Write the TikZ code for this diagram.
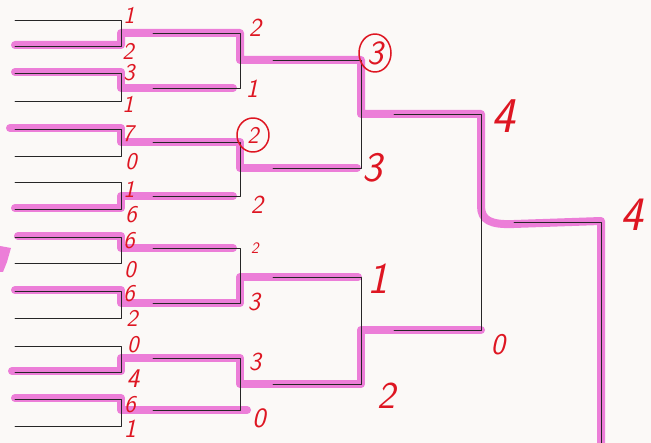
\documentclass[tikz,border=0pt]{standalone}
\usetikzlibrary{calc}

\definecolor{hlpink}{RGB}{236,126,216}
\definecolor{penred}{RGB}{222,22,34}
\definecolor{paper}{RGB}{251,249,247}

\begin{document}
\begin{tikzpicture}[
    x=1pt, y=-1pt,
    line join=round,
    line cap=round,
    hl/.style={draw=hlpink, line width=8pt},
    bline/.style={draw=black!85, line width=0.9pt},
    pen/.style={text=penred, inner sep=0pt,
        font=\sffamily\itshape\fontsize{#1}{#1}\selectfont},
    pen/.default=24,
    ring/.style={draw=penred, line width=1.5pt}
]

% ======================================
% 参数设置：各轮横线的 x 位置
% ======================================
\def\xRa{15}    % 第一轮 左端
\def\xRb{121}   % 第一轮 竖线
\def\xRc{153}   % 第二轮 左端
\def\xRd{240}   % 第二轮 竖线
\def\xRe{273}   % 第三轮 左端
\def\xRf{361}   % 第三轮 竖线
\def\xRg{394}   % 第四轮 左端
\def\xRh{481}   % 第四轮 竖线
\def\xRi{514}   % 决赛 左端
\def\xRj{601}   % 决赛 竖线

% 画布
\useasboundingbox (0,0) rectangle (651,443);
\fill[paper] (0,0) rectangle (651,443);

% ======================================
% 荧光笔：胜者路径
% ======================================
\draw[hl] (\xRa,45) -- (\xRb,45) -- (\xRb,33) -- (\xRd,33) -- (\xRd,60)
    -- (\xRf,60) -- (\xRf,114) -- (\xRh,114) -- (\xRh,206)
    .. controls (\xRh,220) and (490,225) .. (\xRi,224)
    -- (\xRj,221) -- (\xRj,446);

\draw[hl] (\xRa,72) -- (\xRb,72) -- (\xRb,88) -- (233,88);
\draw[hl] (10,128) -- (\xRb,128) -- (\xRb,142) -- (\xRd,142) -- (\xRd,168) -- (357,168);
\draw[hl] (\xRa,208) -- (\xRb,208) -- (\xRb,196) -- (233,196);
\draw[hl] (18,236) -- (\xRb,236) -- (\xRb,248) -- (233,248);
\draw[hl] (\xRa,290) -- (\xRb,290) -- (\xRb,303) -- (\xRd,303) -- (\xRd,277) -- (358,277);
\draw[hl] (12,371) -- (\xRb,371) -- (\xRb,358) -- (\xRd,358) -- (\xRd,384)
    -- (\xRf,384) -- (\xRf,330) -- (\xRh,330);
\draw[hl] (\xRa,398) -- (\xRb,398) -- (\xRb,410) -- (247,410);

% 左边一点笔迹
\fill[hlpink] (0,246) -- (11,248) -- (7,262) -- (3,272) -- (0,272) -- cycle;

% ======================================
% 对阵表：黑线
% ======================================
% 第一轮
\draw[bline] (\xRa,20) -- (\xRb,20) -- (\xRb,46) -- (\xRa,46);
\draw[bline] (\xRa,73) -- (\xRb,73) -- (\xRb,101) -- (\xRa,101);
\draw[bline] (\xRa,129) -- (\xRb,129) -- (\xRb,156) -- (\xRa,156);
\draw[bline] (\xRa,182) -- (\xRb,182) -- (\xRb,209) -- (\xRa,209);
\draw[bline] (\xRa,237) -- (\xRb,237) -- (\xRb,263) -- (\xRa,263);
\draw[bline] (\xRa,291) -- (\xRb,291) -- (\xRb,318) -- (\xRa,318);
\draw[bline] (\xRa,346) -- (\xRb,346) -- (\xRb,372) -- (\xRa,372);
\draw[bline] (\xRa,399) -- (\xRb,399) -- (\xRb,426) -- (\xRa,426);

% 第二轮
\draw[bline] (\xRc,33) -- (\xRd,33) -- (\xRd,88) -- (\xRc,88);
\draw[bline] (\xRc,142) -- (\xRd,142) -- (\xRd,196) -- (\xRc,196);
\draw[bline] (\xRc,248) -- (\xRd,248) -- (\xRd,303) -- (\xRc,303);
\draw[bline] (\xRc,358) -- (\xRd,358) -- (\xRd,410) -- (\xRc,410);

% 第三轮
\draw[bline] (\xRe,60) -- (\xRf,60) -- (\xRf,168) -- (\xRe,168);
\draw[bline] (\xRe,277) -- (\xRf,277) -- (\xRf,384) -- (\xRe,384);

% 第四轮
\draw[bline] (\xRg,114) -- (\xRh,114) -- (\xRh,330) -- (\xRg,330);

% 决赛
\draw[bline] (\xRi,222) -- (\xRj,222) -- (\xRj,446);

% ======================================
% 红笔比分
% ======================================
% 第一轮
\node[pen] (sA1) at (129,15) {1};
\node[pen] (sA2) at (128,51) {2};
\node[pen] (sA3) at (129,73) {3};
\node[pen] (sA4) at (128,104) {1};
\node[pen] (sA5) at (128,134) {7};
\node[pen] (sA6) at (131,162) {0};
\node[pen] (sA7) at (129,189) {1};
\node[pen] (sA8) at (131,215) {6};
\node[pen] (sA9) at (129,241) {6};
\node[pen] (sA10) at (130,270) {0};
\node[pen] (sA11) at (129,294) {6};
\node[pen] (sA12) at (132,318) {2};
\node[pen] (sA13) at (133,345) {0};
\node[pen=27] (sA14) at (133,379) {4};
\node[pen] (sA15) at (130,405) {6};
\node[pen=26] (sA16) at (130,429) {1};

% 第二轮
\node[pen=26] (sB1) at (255,28) {2};
\node[pen=26] (sB2) at (252,89) {1};
\node[pen] (sB3) at (253,135) {2};
\draw[ring] (sB3) ellipse [x radius=16pt, y radius=17pt];
\node[pen=26] (sB4) at (257,205) {2};
\node[pen=16] (sB5) at (255,248) {2};
\node[pen=26] (sB6) at (254,302) {3};
\node[pen=26] (sB7) at (255,362) {3};
\node[pen=28] (sB8) at (259,418) {0};

% 第三轮
\node[pen=34] (sC1) at (375,53) {3};
\draw[ring] (sC1) ellipse [x radius=16pt, y radius=19pt];
\node[pen=42] (sC2) at (372,168) {3};
\node[pen=44] (sC3) at (378,279) {1};
\node[pen=38] (sC4) at (386,396) {2};

% 第四轮
\node[pen=50] (sD1) at (503,116) {4};
\node[pen=30] (sD2) at (498,345) {0};

% 决赛
\node[pen=48] (sE1) at (632,215) {4};

\end{tikzpicture}
\end{document}
